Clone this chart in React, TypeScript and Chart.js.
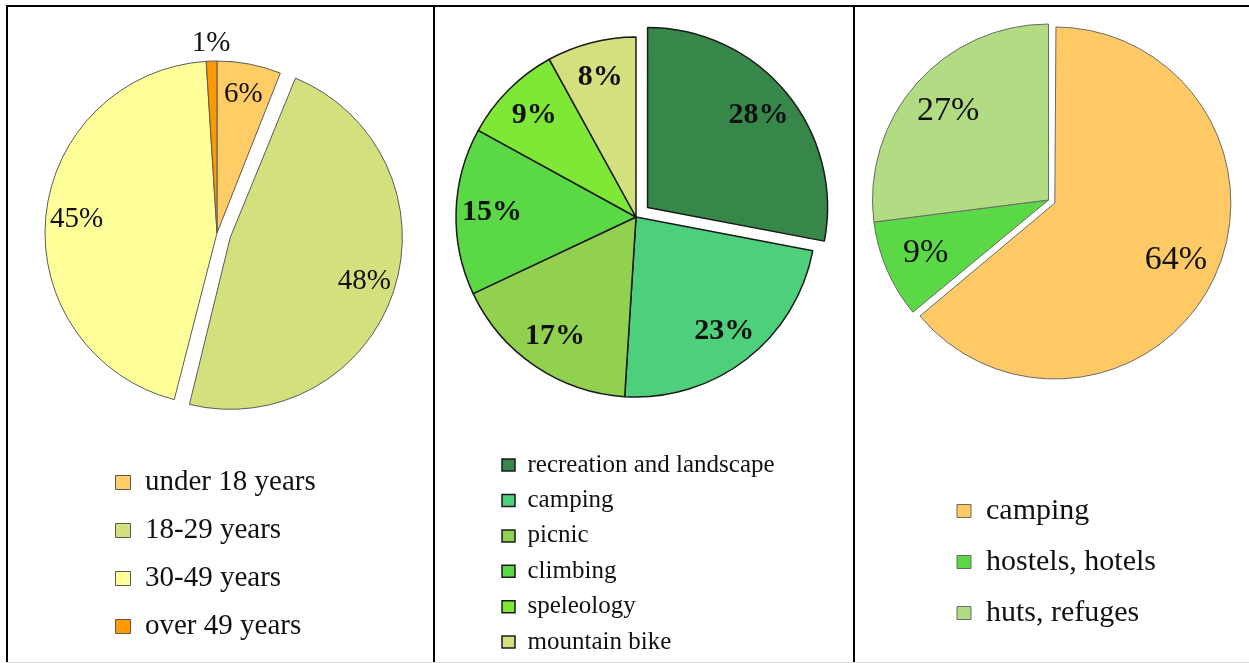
import React, { useEffect, useRef } from 'react';
import { Chart, registerables } from 'chart.js';

Chart.register(...registerables);

// ---------- data ----------
const ageLabels = ['under 18 years', '18-29 years', '30-49 years', 'over 49 years'];
const ageValues = [6, 48, 45, 1];

const activityLabels = ['recreation and landscape', 'camping', 'picnic', 'climbing', 'speleology', 'mountain bike'];
const activityValues = [28, 23, 17, 15, 9, 8];

const stayLabels = ['camping', 'hostels, hotels', 'huts, refuges'];
const stayValues = [64, 9, 27];

// ---------- styles ----------
const ageColors = ['#FFCC66', '#D4E07E', '#FFFF99', '#FF9900'];
const activityColors = ['#37874A', '#4ECF7B', '#92D050', '#5AD846', '#7FE836', '#D4E07E'];
const stayColors = ['#FFCA66', '#5AD846', '#B1DC84'];

const FONT = 'Liberation Serif';

// keep exploded slices at their own radius (Chart.js grows wide exploded arcs)
const explodeFix = {
  id: 'explodeFix',
  afterDatasetUpdate(_chart: any, args: any) {
    args.meta.data.forEach((arc: any) => {
      const shift = ((arc.options && arc.options.offset) || 0) / 4;
      if (!shift) return;
      const fix = 1 - Math.sin(Math.min(Math.PI, arc.circumference || 0));
      arc.outerRadius -= shift * fix;
    });
  },
};

const pieLabels = {
  id: 'pieLabels',
  afterDatasetsDraw(chart: any, _args: any, opts: any) {
    const ctx = chart.ctx;
    const ds = chart.data.datasets[0];
    const meta = chart.getDatasetMeta(0);
    const values = ds.data as number[];
    const total = values.reduce((a, b) => a + b, 0);
    ctx.save();
    ctx.font = `${opts.weight || 'normal'} ${opts.size}px "${FONT}"`;
    ctx.fillStyle = opts.color || '#000';
    ctx.textAlign = 'center';
    ctx.textBaseline = 'middle';
    meta.data.forEach((arc: any, i: number) => {
      const p = arc.getProps(['x', 'y', 'startAngle', 'endAngle'], true);
      const mid = (p.startAngle + p.endAngle) / 2;
      const shift = ((arc.options && arc.options.offset) || 0) / 4;
      const pct = (values[i] / total) * 100;
      const r = shift + (pct < 3 ? ds.radius + opts.outsideGap : ds.radius * opts.fraction);
      ctx.fillText(Math.round(pct) + '%', p.x + Math.cos(mid) * r, p.y + Math.sin(mid) * r);
    });
    ctx.restore();
  },
};

type PanelCfg = {
  left: number;
  top: number;
  width: number;
  height: number;
  padLeft: number;
  padRight: number;
  labels: string[];
  values: number[];
  colors: string[];
  explode: number[];
  radius: number;
  borderColor: string;
  borderWidth: number;
  legendSize: number;
  legendPadding: number;
  boxSize: number;
  labelSize: number;
  labelWeight: string;
  labelFraction: number;
};

const panels: PanelCfg[] = [
  {
    left: 8, top: -194, width: 424, height: 854, padLeft: 88.5, padRight: 94.5,
    labels: ageLabels, values: ageValues, colors: ageColors, explode: [0, 56, 0, 0],
    radius: 172, borderColor: '#5a5a5a', borderWidth: 1,
    legendSize: 29, legendPadding: 19, boxSize: 15,
    labelSize: 29, labelWeight: 'normal', labelFraction: 0.82,
  },
  {
    left: 435, top: -231, width: 417, height: 896, padLeft: 56.6, padRight: 71.6,
    labels: activityLabels, values: activityValues, colors: activityColors, explode: [60, 0, 0, 0, 0, 0],
    radius: 180, borderColor: '#1a1a1a', borderWidth: 1.5,
    legendSize: 25, legendPadding: 10.4, boxSize: 13,
    labelSize: 30, labelWeight: 'bold', labelFraction: 0.8,
  },
  {
    left: 855, top: -249, width: 394, height: 898, padLeft: 81, padRight: 88,
    labels: stayLabels, values: stayValues, colors: stayColors, explode: [28, 0, 0],
    radius: 176, borderColor: '#6a6a6a', borderWidth: 1,
    legendSize: 30, legendPadding: 21, boxSize: 14,
    labelSize: 34, labelWeight: 'normal', labelFraction: 0.76,
  },
];

function PiePanel({ cfg }: { cfg: PanelCfg }) {
  const ref = useRef<HTMLCanvasElement>(null);
  useEffect(() => {
    const chart = new Chart(ref.current as HTMLCanvasElement, {
      type: 'pie',
      data: {
        labels: cfg.labels,
        datasets: [
          {
            data: cfg.values,
            backgroundColor: cfg.colors,
            borderColor: cfg.borderColor,
            borderWidth: cfg.borderWidth,
            offset: cfg.explode,
            radius: cfg.radius,
            clip: false,
          } as any,
        ],
      },
      options: {
        animation: false,
        responsive: false,
        maintainAspectRatio: false,
        devicePixelRatio: 1,
        events: [],
        layout: { padding: { left: cfg.padLeft, right: cfg.padRight, top: 0, bottom: 0 } },
        plugins: {
          tooltip: { enabled: false },
          legend: {
            display: true,
            position: 'chartArea' as any,
            align: 'end',
            fullSize: false,
            labels: {
              color: '#111',
              font: { family: FONT, size: cfg.legendSize },
              boxWidth: cfg.boxSize,
              boxHeight: cfg.boxSize - 1,
              padding: cfg.legendPadding,
            },
          },
          pieLabels: {
            size: cfg.labelSize,
            weight: cfg.labelWeight,
            color: '#111',
            fraction: cfg.labelFraction,
            outsideGap: 18,
          },
        } as any,
      },
      plugins: [explodeFix, pieLabels],
    });
    return () => chart.destroy();
  }, [cfg]);
  return (
    <canvas
      ref={ref}
      width={cfg.width}
      height={cfg.height}
      style={{ position: 'absolute', left: cfg.left, top: cfg.top, width: cfg.width, height: cfg.height }}
    />
  );
}

export default function App() {
  const line = (l: number, t: number, w: number, h: number, c = '#000') => (
    <div style={{ position: 'absolute', left: l, top: t, width: w, height: h, background: c }} />
  );
  return (
    <div
      style={{
        position: 'fixed', left: 0, top: 0, width: 1249, height: 663,
        overflow: 'hidden', background: '#fff',
      }}
    >
      {line(6, 5, 1243, 2)}
      {line(6, 5, 2, 658)}
      {line(433, 5, 2, 658)}
      {line(853, 5, 2, 658)}
      {line(6, 662, 1243, 1, '#dcdcdc')}
      {panels.map((p, i) => (
        <PiePanel key={i} cfg={p} />
      ))}
    </div>
  );
}
